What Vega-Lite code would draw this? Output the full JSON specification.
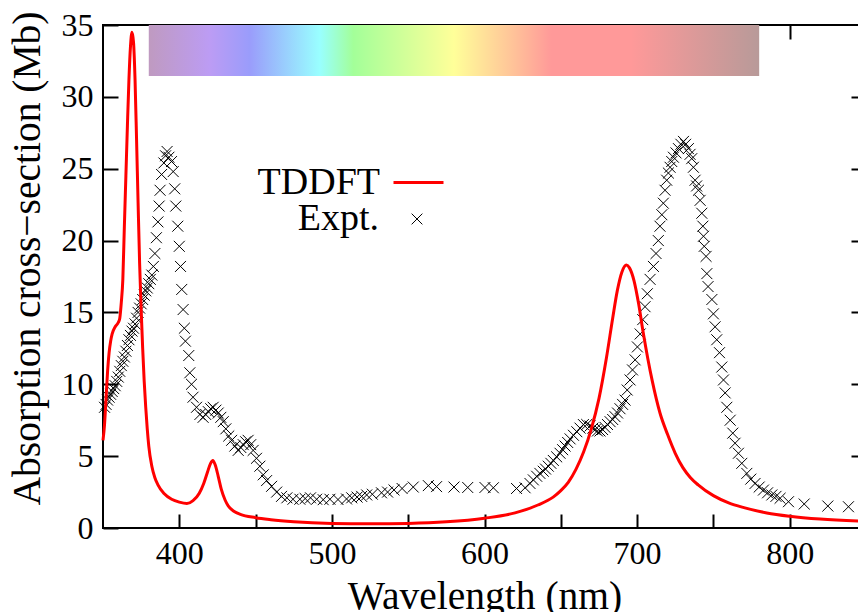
{
  "$schema": "https://vega.github.io/schema/vega-lite/v6.json",
  "autosize": {"type": "none"},
  "width": 763,
  "height": 503,
  "padding": {"left": 103, "top": 25, "right": -8, "bottom": 84},
  "background": "white",
  "datasets": {
    "band": [{"start": 380, "end": 780}],
    "tddft": [
      {"wl": 350, "cs": 6.1}, {"wl": 351, "cs": 7.2}, {"wl": 352, "cs": 9.0}, {"wl": 353, "cs": 10.9}, {"wl": 354, "cs": 12.2}, {"wl": 355, "cs": 13.0}, {"wl": 356, "cs": 13.5}, {"wl": 358, "cs": 14.0}, {"wl": 360, "cs": 14.3}, {"wl": 361, "cs": 14.6}, {"wl": 362, "cs": 15.7}, {"wl": 363, "cs": 17.3}, {"wl": 364, "cs": 21.0}, {"wl": 365, "cs": 24.5}, {"wl": 366, "cs": 28.0}, {"wl": 367, "cs": 31.2}, {"wl": 368, "cs": 33.5}, {"wl": 369, "cs": 34.5}, {"wl": 370, "cs": 33.8}, {"wl": 371, "cs": 31.2}, {"wl": 372, "cs": 27.0}, {"wl": 373, "cs": 22.6}, {"wl": 374, "cs": 18.4}, {"wl": 375, "cs": 15.2}, {"wl": 376, "cs": 12.5}, {"wl": 377, "cs": 10.2}, {"wl": 378, "cs": 8.4}, {"wl": 379, "cs": 6.9}, {"wl": 380, "cs": 5.7}, {"wl": 382, "cs": 4.3}, {"wl": 384, "cs": 3.5}, {"wl": 386, "cs": 3.0}, {"wl": 390, "cs": 2.4}, {"wl": 395, "cs": 2.0}, {"wl": 400, "cs": 1.8}, {"wl": 405, "cs": 1.7}, {"wl": 409, "cs": 1.9}, {"wl": 413, "cs": 2.4}, {"wl": 416, "cs": 3.1}, {"wl": 418.5, "cs": 3.9}, {"wl": 420.5, "cs": 4.5}, {"wl": 422, "cs": 4.7}, {"wl": 423.5, "cs": 4.4}, {"wl": 425.5, "cs": 3.6}, {"wl": 427.5, "cs": 2.7}, {"wl": 430, "cs": 1.95}, {"wl": 432, "cs": 1.55}, {"wl": 436, "cs": 1.15}, {"wl": 440, "cs": 0.95}, {"wl": 450, "cs": 0.72}, {"wl": 460, "cs": 0.58}, {"wl": 475, "cs": 0.44}, {"wl": 500, "cs": 0.32}, {"wl": 525, "cs": 0.29}, {"wl": 550, "cs": 0.32}, {"wl": 575, "cs": 0.43}, {"wl": 600, "cs": 0.68}, {"wl": 620, "cs": 1.05}, {"wl": 635, "cs": 1.6}, {"wl": 645, "cs": 2.15}, {"wl": 650, "cs": 2.6}, {"wl": 655, "cs": 3.2}, {"wl": 660, "cs": 4.1}, {"wl": 665, "cs": 5.3}, {"wl": 670, "cs": 6.9}, {"wl": 675, "cs": 9.0}, {"wl": 680, "cs": 11.9}, {"wl": 684, "cs": 14.6}, {"wl": 687, "cs": 16.5}, {"wl": 690, "cs": 17.8}, {"wl": 693, "cs": 18.3}, {"wl": 695, "cs": 18.1}, {"wl": 698, "cs": 17.2}, {"wl": 701, "cs": 15.6}, {"wl": 704, "cs": 13.6}, {"wl": 707, "cs": 11.8}, {"wl": 710, "cs": 10.2}, {"wl": 715, "cs": 8.0}, {"wl": 720, "cs": 6.5}, {"wl": 725, "cs": 5.2}, {"wl": 730, "cs": 4.2}, {"wl": 735, "cs": 3.5}, {"wl": 740, "cs": 3.0}, {"wl": 750, "cs": 2.25}, {"wl": 760, "cs": 1.75}, {"wl": 770, "cs": 1.42}, {"wl": 785, "cs": 1.05}, {"wl": 800, "cs": 0.82}, {"wl": 820, "cs": 0.62}, {"wl": 850, "cs": 0.46}
    ],
    "expt": [
      {"wl": 351, "cs": 8.4}, {"wl": 352, "cs": 8.6}, {"wl": 353, "cs": 8.9}, {"wl": 354, "cs": 9.1}, {"wl": 355, "cs": 9.3}, {"wl": 356, "cs": 9.5}, {"wl": 357, "cs": 9.7}, {"wl": 358, "cs": 9.9}, {"wl": 359, "cs": 10.2}, {"wl": 360, "cs": 10.5}, {"wl": 361, "cs": 10.9}, {"wl": 362, "cs": 11.3}, {"wl": 363, "cs": 11.6}, {"wl": 364, "cs": 11.9}, {"wl": 365, "cs": 12.3}, {"wl": 366, "cs": 12.7}, {"wl": 367, "cs": 13.1}, {"wl": 368, "cs": 13.4}, {"wl": 369, "cs": 13.7}, {"wl": 370, "cs": 13.9}, {"wl": 371, "cs": 14.2}, {"wl": 372, "cs": 14.6}, {"wl": 373, "cs": 15.0}, {"wl": 374, "cs": 15.3}, {"wl": 375, "cs": 15.6}, {"wl": 376, "cs": 15.9}, {"wl": 377, "cs": 16.2}, {"wl": 378, "cs": 16.5}, {"wl": 379, "cs": 16.7}, {"wl": 380, "cs": 17.0}, {"wl": 381, "cs": 17.3}, {"wl": 382, "cs": 17.6}, {"wl": 383, "cs": 18.2}, {"wl": 384, "cs": 19.1}, {"wl": 385, "cs": 20.2}, {"wl": 386, "cs": 21.3}, {"wl": 386.8, "cs": 22.4}, {"wl": 387.4, "cs": 23.5}, {"wl": 388.4, "cs": 24.6}, {"wl": 389.9, "cs": 25.4}, {"wl": 391, "cs": 25.9}, {"wl": 392, "cs": 26.2}, {"wl": 393.2, "cs": 25.8}, {"wl": 394.9, "cs": 25.5}, {"wl": 396, "cs": 24.8}, {"wl": 397, "cs": 23.6}, {"wl": 397.7, "cs": 22.4}, {"wl": 399, "cs": 21.0}, {"wl": 400, "cs": 19.6}, {"wl": 400.8, "cs": 18.2}, {"wl": 401.6, "cs": 16.6}, {"wl": 402.5, "cs": 15.2}, {"wl": 403.3, "cs": 13.9}, {"wl": 404, "cs": 13.0}, {"wl": 406.2, "cs": 12.0}, {"wl": 406.9, "cs": 10.8}, {"wl": 408, "cs": 10.0}, {"wl": 409, "cs": 9.1}, {"wl": 411.3, "cs": 8.4}, {"wl": 413.5, "cs": 7.9}, {"wl": 415.6, "cs": 7.7}, {"wl": 417.3, "cs": 7.9}, {"wl": 419, "cs": 8.1}, {"wl": 420.6, "cs": 8.3}, {"wl": 422.2, "cs": 8.4}, {"wl": 424, "cs": 8.2}, {"wl": 425.5, "cs": 8.0}, {"wl": 427.2, "cs": 7.7}, {"wl": 428.8, "cs": 7.4}, {"wl": 430.5, "cs": 6.9}, {"wl": 432.4, "cs": 6.4}, {"wl": 434.3, "cs": 6.1}, {"wl": 436.4, "cs": 5.7}, {"wl": 438.6, "cs": 5.4}, {"wl": 440.3, "cs": 5.6}, {"wl": 441.9, "cs": 5.8}, {"wl": 443.5, "cs": 6.0}, {"wl": 445.1, "cs": 6.1}, {"wl": 446.8, "cs": 5.8}, {"wl": 448.4, "cs": 5.4}, {"wl": 450.6, "cs": 4.85}, {"wl": 452.8, "cs": 4.3}, {"wl": 455, "cs": 3.7}, {"wl": 457.2, "cs": 3.3}, {"wl": 460.5, "cs": 2.9}, {"wl": 463.8, "cs": 2.5}, {"wl": 467, "cs": 2.2}, {"wl": 470.5, "cs": 2.1}, {"wl": 474.5, "cs": 2.0}, {"wl": 479, "cs": 2.0}, {"wl": 482.5, "cs": 2.05}, {"wl": 486, "cs": 2.1}, {"wl": 490, "cs": 2.0}, {"wl": 494.3, "cs": 1.97}, {"wl": 498.7, "cs": 2.0}, {"wl": 504, "cs": 1.98}, {"wl": 509.6, "cs": 2.02}, {"wl": 513, "cs": 2.1}, {"wl": 516.5, "cs": 2.15}, {"wl": 519.5, "cs": 2.2}, {"wl": 522.8, "cs": 2.3}, {"wl": 526.5, "cs": 2.35}, {"wl": 532.5, "cs": 2.45}, {"wl": 536.5, "cs": 2.5}, {"wl": 540.7, "cs": 2.65}, {"wl": 546, "cs": 2.75}, {"wl": 553.3, "cs": 2.85}, {"wl": 563.2, "cs": 2.95}, {"wl": 568.6, "cs": 2.88}, {"wl": 580, "cs": 2.85}, {"wl": 589, "cs": 2.82}, {"wl": 600.3, "cs": 2.82}, {"wl": 605.8, "cs": 2.8}, {"wl": 621, "cs": 2.75}, {"wl": 626.6, "cs": 2.8}, {"wl": 629.8, "cs": 3.1}, {"wl": 632, "cs": 3.35}, {"wl": 634.2, "cs": 3.6}, {"wl": 636.3, "cs": 3.8}, {"wl": 638.5, "cs": 3.95}, {"wl": 640, "cs": 4.1}, {"wl": 641.8, "cs": 4.3}, {"wl": 643.5, "cs": 4.5}, {"wl": 645.1, "cs": 4.7}, {"wl": 647.3, "cs": 4.95}, {"wl": 649.5, "cs": 5.2}, {"wl": 651.2, "cs": 5.45}, {"wl": 652.8, "cs": 5.7}, {"wl": 654.5, "cs": 5.95}, {"wl": 656.1, "cs": 6.2}, {"wl": 658.3, "cs": 6.45}, {"wl": 660.5, "cs": 6.7}, {"wl": 662.6, "cs": 6.95}, {"wl": 664.8, "cs": 7.2}, {"wl": 667, "cs": 7.2}, {"wl": 669.2, "cs": 7.1}, {"wl": 671, "cs": 6.95}, {"wl": 672.5, "cs": 6.85}, {"wl": 674, "cs": 6.75}, {"wl": 675.7, "cs": 6.75}, {"wl": 677.4, "cs": 6.85}, {"wl": 679, "cs": 7.0}, {"wl": 680.6, "cs": 7.2}, {"wl": 682.3, "cs": 7.4}, {"wl": 684, "cs": 7.55}, {"wl": 685.5, "cs": 7.75}, {"wl": 687.2, "cs": 8.0}, {"wl": 688.8, "cs": 8.3}, {"wl": 690.5, "cs": 8.6}, {"wl": 692.1, "cs": 8.9}, {"wl": 693.5, "cs": 9.6}, {"wl": 695.4, "cs": 10.3}, {"wl": 697, "cs": 11.0}, {"wl": 698.7, "cs": 11.7}, {"wl": 700.2, "cs": 12.6}, {"wl": 702, "cs": 13.5}, {"wl": 703.7, "cs": 14.5}, {"wl": 705.2, "cs": 15.4}, {"wl": 706.7, "cs": 16.3}, {"wl": 708.5, "cs": 17.3}, {"wl": 710.7, "cs": 18.2}, {"wl": 712.4, "cs": 19.1}, {"wl": 713.9, "cs": 20.0}, {"wl": 715, "cs": 21.0}, {"wl": 716.2, "cs": 21.8}, {"wl": 717.2, "cs": 22.6}, {"wl": 718.3, "cs": 23.5}, {"wl": 719.4, "cs": 24.2}, {"wl": 720.5, "cs": 24.7}, {"wl": 721.6, "cs": 25.1}, {"wl": 722.7, "cs": 25.5}, {"wl": 723.8, "cs": 25.8}, {"wl": 725.5, "cs": 26.1}, {"wl": 727.1, "cs": 26.4}, {"wl": 728.7, "cs": 26.7}, {"wl": 730.4, "cs": 26.9}, {"wl": 731.8, "cs": 26.7}, {"wl": 733.6, "cs": 26.4}, {"wl": 734.7, "cs": 26.0}, {"wl": 735.8, "cs": 25.7}, {"wl": 736.9, "cs": 25.1}, {"wl": 738, "cs": 24.2}, {"wl": 739, "cs": 23.8}, {"wl": 740.2, "cs": 23.5}, {"wl": 741.3, "cs": 22.8}, {"wl": 742.4, "cs": 21.9}, {"wl": 743.1, "cs": 21.0}, {"wl": 743.5, "cs": 20.3}, {"wl": 744, "cs": 19.6}, {"wl": 745.2, "cs": 18.9}, {"wl": 745.7, "cs": 17.7}, {"wl": 746.5, "cs": 16.8}, {"wl": 749, "cs": 15.9}, {"wl": 750, "cs": 14.9}, {"wl": 751.1, "cs": 14.0}, {"wl": 752.2, "cs": 13.1}, {"wl": 754, "cs": 12.2}, {"wl": 755.5, "cs": 11.2}, {"wl": 756.6, "cs": 10.3}, {"wl": 757.7, "cs": 9.4}, {"wl": 758.8, "cs": 8.4}, {"wl": 761, "cs": 7.5}, {"wl": 762.7, "cs": 6.6}, {"wl": 764.2, "cs": 5.9}, {"wl": 766.4, "cs": 5.2}, {"wl": 768.6, "cs": 4.5}, {"wl": 771.9, "cs": 3.8}, {"wl": 774.5, "cs": 3.4}, {"wl": 777.3, "cs": 3.1}, {"wl": 780, "cs": 2.85}, {"wl": 782.8, "cs": 2.64}, {"wl": 785.5, "cs": 2.45}, {"wl": 788.3, "cs": 2.3}, {"wl": 791, "cs": 2.2}, {"wl": 793.7, "cs": 2.07}, {"wl": 799.2, "cs": 1.83}, {"wl": 809.5, "cs": 1.67}, {"wl": 825, "cs": 1.53}, {"wl": 838.5, "cs": 1.48}
    ]
  },
  "layer": [
    {
      "data": {"name": "band"},
      "mark": {
        "type": "rect",
        "fill": {
          "gradient": "linear", "x1": 0, "x2": 1, "y1": 0, "y2": 0,
          "stops": [
            {"offset": 0, "color": "#bf9ac0"},
            {"offset": 0.1, "color": "#bc9cf4"},
            {"offset": 0.165, "color": "#9a9cfb"},
            {"offset": 0.28, "color": "#99ffff"},
            {"offset": 0.335, "color": "#a3ff99"},
            {"offset": 0.5, "color": "#ffff99"},
            {"offset": 0.595, "color": "#ffc499"},
            {"offset": 0.66, "color": "#ff9999"},
            {"offset": 0.79, "color": "#ff9999"},
            {"offset": 1, "color": "#b89a99"}
          ]
        }
      },
      "encoding": {
        "x": {
          "field": "start", "type": "quantitative",
          "scale": {"domain": [350, 850], "nice": false, "zero": false},
          "axis": {
            "orient": "bottom", "title": "Wavelength (nm)",
            "values": [400, 450, 500, 550, 600, 650, 700, 750, 800],
            "labelExpr": "datum.value % 100 === 0 ? datum.label : ''",
            "tickSize": -14, "labelPadding": 24,
            "titleY": 80, "titleBaseline": "alphabetic"
          }
        },
        "x2": {"field": "end"},
        "y": {
          "datum": 31.45, "type": "quantitative",
          "scale": {"domain": [0, 35], "nice": false, "zero": true},
          "axis": {
            "orient": "left", "title": "Absorption cross\u2212section (Mb)",
            "values": [0, 5, 10, 15, 20, 25, 30, 35],
            "tickSize": -15, "labelPadding": 25,
            "titleAngle": -90, "titleX": -64, "titleY": 233,
            "titleAlign": "center", "titleBaseline": "alphabetic"
          }
        },
        "y2": {"datum": 35}
      }
    },
    {
      "data": {"name": "expt"},
      "transform": [{"calculate": "'Expt.'", "as": "series"}],
      "mark": {"type": "point", "filled": false, "strokeWidth": 1, "size": 120, "opacity": 1},
      "encoding": {
        "x": {"field": "wl", "type": "quantitative", "axis": null},
        "y": {"field": "cs", "type": "quantitative", "axis": null},
        "shape": {
          "field": "series", "type": "nominal",
          "scale": {"domain": ["Expt."], "range": ["M-1,-1L1,1M-1,1L1,-1"]},
          "legend": {
            "title": null, "orient": "none", "legendX": 295, "legendY": 175,
            "symbolSize": 115, "symbolStrokeColor": "black", "symbolFillColor": "transparent",
            "symbolStrokeWidth": 1, "labelAlign": "right", "labelOffset": -57
          }
        },
        "color": {"value": "black"}
      }
    },
    {
      "data": {"name": "tddft"},
      "transform": [{"calculate": "'TDDFT'", "as": "series"}],
      "mark": {"type": "line", "strokeWidth": 3, "interpolate": "monotone"},
      "encoding": {
        "x": {
          "field": "wl", "type": "quantitative",
          "axis": {
            "orient": "top", "title": null, "labels": false,
            "values": [400, 450, 500, 550, 600, 650, 700, 750, 800], "tickSize": -14
          }
        },
        "y": {
          "field": "cs", "type": "quantitative",
          "axis": {
            "orient": "right", "title": null, "labels": false,
            "values": [5, 10, 15, 20, 25, 30], "tickSize": -15
          }
        },
        "stroke": {
          "field": "series", "type": "nominal",
          "scale": {"domain": ["TDDFT"], "range": ["#ff0000"]},
          "legend": {
            "title": null, "orient": "none", "legendX": 289, "legendY": 131,
            "symbolType": "stroke", "symbolSize": 2500, "symbolStrokeWidth": 3,
            "labelAlign": "right", "labelOffset": -65
          }
        }
      }
    }
  ],
  "resolve": {"axis": {"x": "independent", "y": "independent"}},
  "config": {
    "font": "Liberation Serif",
    "view": {"stroke": "black", "strokeWidth": 2},
    "axis": {
      "labelFont": "Liberation Serif", "labelFontSize": 32, "labelColor": "black",
      "titleFont": "Liberation Serif", "titleFontSize": 39.5, "titleColor": "black", "titleFontWeight": "normal",
      "tickColor": "black", "tickWidth": 2, "domain": false, "grid": false,
      "labelFlush": false, "labelOverlap": false, "zindex": 1
    },
    "legend": {
      "labelFont": "Liberation Serif", "labelFontSize": 38, "labelColor": "black",
      "padding": 0, "offset": 0, "labelLimit": 300
    }
  }
}
